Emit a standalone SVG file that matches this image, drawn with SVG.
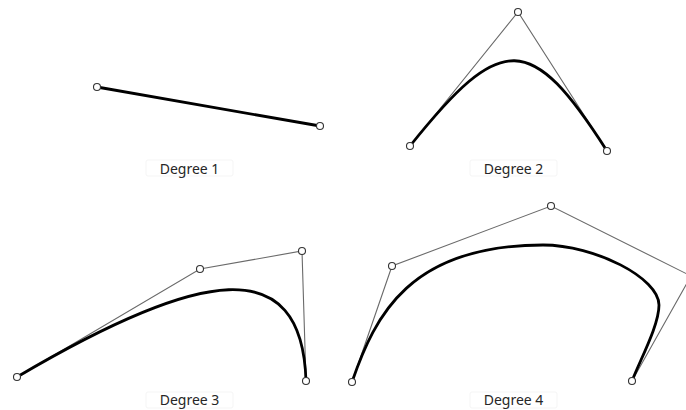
<svg xmlns="http://www.w3.org/2000/svg" width="686" height="410" viewBox="0 0 686 410">
<style>
.poly{fill:none;stroke:#6a6a6a;stroke-width:1.1}
.curve{fill:none;stroke:#000;stroke-width:2.8;stroke-linecap:round}
.pt{fill:#fff;stroke:#333;stroke-width:1.1}
.lbl{font-family:"Noto Sans","Open Sans",sans-serif;font-size:14px;fill:#262626;text-anchor:middle}
.box{fill:#fff;stroke:#f5f5f5;stroke-width:1}
</style>
<rect width="686" height="410" fill="#fff"/>
<g id="connectors">
  <path class="curve" d="M97,87 L320,126"/>
  <polyline class="poly" points="410,146 518,12 607,151"/>
  <path class="curve" d="M410,146 C502,31 531,32 607,151"/>
  <polyline class="poly" points="17,377 200,269 302,251 306,381"/>
  <path class="curve" d="M17,377 C200,269 302,251 306,381"/>
  <polyline class="poly" points="352,382 392,266 551,206 691,276 632,381"/>
  <path class="curve" d="M352,382 C375,315 410,245 543,245 C595,245 659,278 659,305 C659,325 641,358 632,381"/>
</g>
<g id="labels">
  <g id="label-degree1"><rect class="box" x="146" y="160" width="87" height="16" rx="2"/><text class="lbl" x="189.5" y="173.5">Degree 1</text></g>
  <g id="label-degree2"><rect class="box" x="470" y="160" width="87" height="16" rx="2"/><text class="lbl" x="513.5" y="173.5">Degree 2</text></g>
  <g id="label-degree3"><rect class="box" x="146" y="392" width="87" height="16" rx="2"/><text class="lbl" x="189.5" y="405">Degree 3</text></g>
  <g id="label-degree4"><rect class="box" x="470" y="392" width="87" height="16" rx="2"/><text class="lbl" x="513.5" y="405">Degree 4</text></g>
</g>
<g id="d1-p0"><circle class="pt" cx="97" cy="87" r="3.5"/></g>
<g id="d1-p1"><circle class="pt" cx="320" cy="126" r="3.5"/></g>
<g id="d2-p0"><circle class="pt" cx="410" cy="146" r="3.5"/></g>
<g id="d2-p1"><circle class="pt" cx="518" cy="12" r="3.5"/></g>
<g id="d2-p2"><circle class="pt" cx="607" cy="151" r="3.5"/></g>
<g id="d3-p0"><circle class="pt" cx="17" cy="377" r="3.5"/></g>
<g id="d3-p1"><circle class="pt" cx="200" cy="269" r="3.5"/></g>
<g id="d3-p2"><circle class="pt" cx="302" cy="251" r="3.5"/></g>
<g id="d3-p3"><circle class="pt" cx="306" cy="381" r="3.5"/></g>
<g id="d4-p0"><circle class="pt" cx="352" cy="382" r="3.5"/></g>
<g id="d4-p1"><circle class="pt" cx="392" cy="266" r="3.5"/></g>
<g id="d4-p2"><circle class="pt" cx="551" cy="206" r="3.5"/></g>
<g id="d4-p4"><circle class="pt" cx="632" cy="381" r="3.5"/></g>
</svg>
